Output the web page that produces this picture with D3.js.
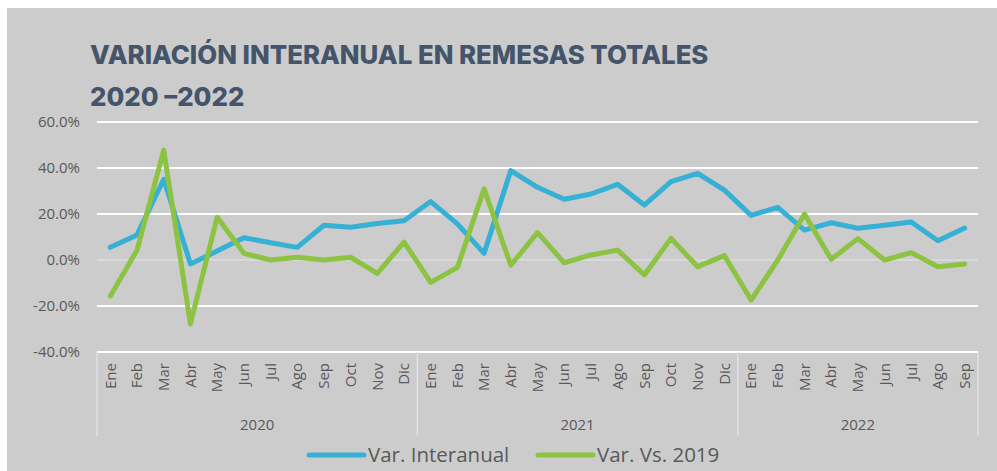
<!DOCTYPE html>
<html>
<head>
<meta charset="utf-8">
<script src="https://cdn.jsdelivr.net/npm/d3@7"></script>
<style>
  html, body { margin: 0; padding: 0; background: #ffffff; }
  svg { display: block; }
</style>
</head>
<body>
<svg id="chart" width="997" height="471"></svg>
<script>
// Month labels and year groups for the category axis
const months2020 = ["Ene","Feb","Mar","Abr","May","Jun","Jul","Ago","Sep","Oct","Nov","Dic"];
const months2021 = ["Ene","Feb","Mar","Abr","May","Jun","Jul","Ago","Sep","Oct","Nov","Dic"];
const months2022 = ["Ene","Feb","Mar","Abr","May","Jun","Jul","Ago","Sep"];
const years = ["2020", "2021", "2022"];

// Year-over-year variation of total remittances (%)
const varInteranual = [
  5.5, 10.9, 35.1, -1.7, 3.9, 9.7, 7.5, 5.5, 15.1, 14.2, 15.9, 17.1,
  25.4, 15.7, 2.9, 38.9, 31.6, 26.4, 28.7, 32.9, 23.9, 34.1, 37.7, 30.4,
  19.4, 22.9, 13.0, 16.2, 13.8, 15.1, 16.5, 8.4, 13.9
];
// Variation versus the same month of 2019 (%)
const varVs2019 = [
  -15.7, 4.3, 47.8, -27.8, 18.6, 2.9, 0.0, 1.2, 0.0, 1.2, -5.8, 7.8,
  -9.7, -3.2, 30.9, -2.3, 11.9, -1.2, 2.2, 4.3, -6.5, 9.4, -2.9, 1.9,
  -17.4, 0.0, 20.0, 0.3, 9.3, 0.0, 3.2, -2.9, -1.7
];
const yTicks = [-40, -20, 0, 20, 40, 60];
const seriesNames = ["Var. Interanual", "Var. Vs. 2019"];

const monthGroups = [months2020, months2021, months2022];
const categories = [];
monthGroups.forEach((ms, gi) => ms.forEach(m => categories.push({ key: years[gi] + "-" + m, month: m, year: years[gi] })));

const colors = { blue: "#36b0d4", green: "#8cc342", text: "#595959", title: "#44546a", grid: "#ffffff", bg: "#cccccc" };
const axisFont = "'Open Sans', sans-serif";

const svg = d3.select("#chart");
svg.append("rect").attr("x", 7).attr("y", 8).attr("width", 990).attr("height", 463).attr("fill", colors.bg);

const plot = { left: 97, right: 978, top: 122, bottom: 352 };

const x = d3.scaleBand().domain(categories.map(d => d.key)).range([plot.left, plot.right]).paddingInner(0).paddingOuter(0);
const y = d3.scaleLinear().domain([-40, 60]).range([plot.bottom, plot.top]);

// Title
const title = svg.append("g").attr("font-family", "Inter, 'Open Sans', sans-serif").attr("font-weight", 800)
  .attr("fill", colors.title).attr("font-size", 25.8).attr("letter-spacing", "0");
title.append("text").attr("x", 90).attr("y", 64).text("VARIACIÓN INTERANUAL EN REMESAS TOTALES");
title.append("text").attr("x", 90).attr("y", 106).text("2020 –2022");

// Horizontal gridlines
const gridG = svg.append("g");
gridG.selectAll("line").data(yTicks).join("line")
  .attr("x1", plot.left).attr("x2", plot.right)
  .attr("y1", d => y(d)).attr("y2", d => y(d))
  .attr("stroke", d => d === 0 ? "#dedede" : colors.grid)
  .attr("stroke-width", d => d === 0 ? 1.5 : 2);

// Y axis labels (plain hyphen for negatives)
const yAxis = d3.axisLeft(y).tickValues(yTicks).tickSize(0).tickPadding(0).tickFormat(d => d.toFixed(1) + "%");
svg.append("g").attr("transform", `translate(80,0)`).call(yAxis)
  .call(g => g.select(".domain").remove())
  .call(g => g.selectAll("text").attr("font-family", axisFont).attr("font-size", 15).attr("fill", colors.text));

// Category axis: rotated month labels
const xAxis = d3.axisBottom(x).tickSize(0).tickPadding(0).tickFormat(k => categories.find(c => c.key === k).month);
svg.append("g").attr("transform", `translate(0,${plot.bottom})`).call(xAxis)
  .call(g => g.select(".domain").remove())
  .call(g => g.selectAll("text")
    .attr("font-family", axisFont).attr("font-size", 15).attr("fill", colors.text)
    .attr("text-anchor", "end").attr("dy", "0.35em")
    .attr("transform", "translate(0,11) rotate(-90)"));

// Year group separators and labels
let idx = 0;
const boundaries = [plot.left];
const groupCenters = [];
monthGroups.forEach(ms => {
  const start = x(categories[idx].key);
  idx += ms.length;
  const end = x(categories[idx - 1].key) + x.bandwidth();
  boundaries.push(end);
  groupCenters.push((start + end) / 2);
});
svg.append("g").selectAll("line").data(boundaries).join("line")
  .attr("x1", d => d).attr("x2", d => d)
  .attr("y1", plot.bottom).attr("y2", 436)
  .attr("stroke", "#e2e2e2").attr("stroke-width", 1.5);
svg.append("g").selectAll("text").data(years).join("text")
  .attr("x", (d, i) => groupCenters[i]).attr("y", 430)
  .attr("text-anchor", "middle")
  .attr("font-family", axisFont).attr("font-size", 15).attr("fill", colors.text)
  .text(d => d);

// Series lines
const line = d3.line().x((d, i) => x(categories[i].key) + x.bandwidth() / 2).y(d => y(d));
[[varInteranual, colors.blue], [varVs2019, colors.green]].forEach(([vals, c]) => {
  svg.append("path").datum(vals).attr("d", line)
    .attr("fill", "none").attr("stroke", c).attr("stroke-width", 5)
    .attr("stroke-linejoin", "round").attr("stroke-linecap", "round");
});

// Legend
const legend = svg.append("g");
const legendItems = [
  { name: seriesNames[0], color: colors.blue, x: 309 },
  { name: seriesNames[1], color: colors.green, x: 538 }
];
legendItems.forEach(it => {
  legend.append("line").attr("x1", it.x).attr("x2", it.x + 55).attr("y1", 455).attr("y2", 455)
    .attr("stroke", it.color).attr("stroke-width", 5).attr("stroke-linecap", "round");
  legend.append("text").attr("x", it.x + 59).attr("y", 462)
    .attr("font-family", axisFont).attr("font-size", 20.5).attr("fill", colors.text)
    .text(it.name);
});
</script>
</body>
</html>
